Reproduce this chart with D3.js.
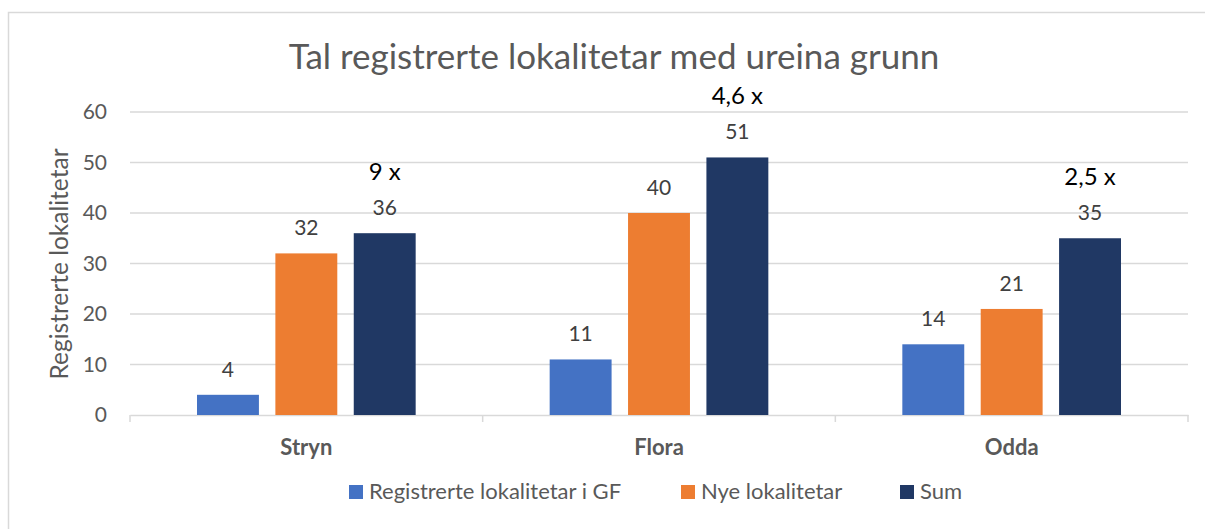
<!DOCTYPE html>
<html>
<head>
<meta charset="utf-8">
<script src="https://cdn.jsdelivr.net/npm/d3@7"></script>
<style>
  body { margin: 0; background: #fff; }
  text { font-family: Lato, "Open Sans", sans-serif; }
</style>
</head>
<body>
<div id="chart-area"></div>
<script>
// Data
var categories = ["Stryn", "Flora", "Odda"];
var seriesNames = ["Registrerte lokalitetar i GF", "Nye lokalitetar", "Sum"];
var registrerteGF = [4, 11, 14];
var nyeLokalitetar = [32, 40, 21];
var sum = [36, 51, 35];
var factorLabels = ["9 x", "4,6 x", "2,5 x"];
var yTicks = [0, 10, 20, 30, 40, 50, 60];
var colors = ["#4472C4", "#ED7D31", "#203864"];

var W = 1205, H = 529;
var margin = { left: 130, right: 17, top: 112, bottom: 114 };
var width = W - margin.left - margin.right,
    height = H - margin.top - margin.bottom;

var svg = d3.select("#chart-area")
    .append("svg")
    .attr("width", W)
    .attr("height", H);

// chart frame
svg.append("rect")
    .attr("x", 8.5).attr("y", 12.5)
    .attr("width", W).attr("height", H)
    .attr("fill", "none")
    .attr("stroke", "#d9d9d9")
    .attr("stroke-width", 1.5);

var g = svg.append("g")
    .attr("transform", "translate(" + margin.left + "," + margin.top + ")");

// Scales
var x0 = d3.scaleBand().domain(categories).range([0, width]).paddingInner(0).paddingOuter(0);
var x1 = d3.scaleBand().domain(seriesNames).range([67, x0.bandwidth() - 67]).paddingInner(0.21);
var y = d3.scaleLinear().domain([0, 60]).range([height, 0]);

// Gridlines
g.append("g")
    .selectAll("line")
    .data(yTicks.slice(1))
    .enter().append("line")
    .attr("x1", 0).attr("x2", width)
    .attr("y1", function(d){ return y(d); })
    .attr("y2", function(d){ return y(d); })
    .attr("stroke", "#d9d9d9")
    .attr("stroke-width", 1.5);

// Y-axis labels
var yAxisCall = d3.axisLeft(y).tickValues(yTicks).tickSize(0).tickPadding(23);
var yAxis = g.append("g").call(yAxisCall);
yAxis.select(".domain").remove();
yAxis.selectAll("text")
    .attr("font-size", "21px")
    .attr("fill", "#595959")
    .style("font-family", "Lato, 'Open Sans', sans-serif");

// X-axis
var xAxisCall = d3.axisBottom(x0).tickSize(0).tickPadding(24);
var xAxis = g.append("g")
    .attr("transform", "translate(0," + height + ")")
    .call(xAxisCall);
xAxis.select(".domain").attr("stroke", "#d9d9d9").attr("stroke-width", 1.5);
xAxis.selectAll("text")
    .attr("font-size", "22px")
    .attr("font-weight", "bold")
    .attr("fill", "#595959")
    .style("font-family", "Lato, 'Open Sans', sans-serif");
// category separator ticks
xAxis.selectAll(".sep")
    .data(d3.range(categories.length + 1))
    .enter().append("line")
    .attr("class", "sep")
    .attr("x1", function(i){ return i * x0.bandwidth(); })
    .attr("x2", function(i){ return i * x0.bandwidth(); })
    .attr("y1", 0).attr("y2", 7)
    .attr("stroke", "#d9d9d9")
    .attr("stroke-width", 1.5);

// Bars
var rows = categories.map(function(c, i){
    return { cat: c, values: [registrerteGF[i], nyeLokalitetar[i], sum[i]], factor: factorLabels[i] };
});

var groups = g.selectAll(".grp")
    .data(rows)
    .enter().append("g")
    .attr("class", "grp")
    .attr("transform", function(d){ return "translate(" + x0(d.cat) + ",0)"; });

groups.selectAll("rect")
    .data(function(d){ return d.values.map(function(v, k){ return { name: seriesNames[k], v: v, k: k }; }); })
    .enter().append("rect")
    .attr("x", function(d){ return x1(d.name); })
    .attr("width", x1.bandwidth())
    .attr("y", function(d){ return y(d.v); })
    .attr("height", function(d){ return height - y(d.v); })
    .attr("fill", function(d){ return colors[d.k]; });

// value labels
groups.selectAll(".val")
    .data(function(d){ return d.values.map(function(v, k){ return { name: seriesNames[k], v: v }; }); })
    .enter().append("text")
    .attr("class", "val")
    .attr("x", function(d){ return x1(d.name) + x1.bandwidth() / 2; })
    .attr("y", function(d){ return y(d.v) - 18; })
    .attr("text-anchor", "middle")
    .attr("font-size", "21px")
    .attr("fill", "#404040")
    .text(function(d){ return d.v; });

// factor annotations above Sum bars
groups.append("text")
    .attr("x", x1("Sum") + x1.bandwidth() / 2)
    .attr("y", function(d){ return y(d.values[2]) - 53; })
    .attr("text-anchor", "middle")
    .attr("font-size", "24px")
    .attr("fill", "#000")
    .text(function(d){ return d.factor; });

// Title
svg.append("text")
    .attr("x", 614)
    .attr("y", 69)
    .attr("text-anchor", "middle")
    .attr("font-size", "35px")
    .attr("fill", "#595959")
    .text("Tal registrerte lokalitetar med ureina grunn");

// Y label
svg.append("text")
    .attr("transform", "rotate(-90)")
    .attr("x", -264)
    .attr("y", 68)
    .attr("text-anchor", "middle")
    .attr("font-size", "24.5px")
    .attr("fill", "#595959")
    .text("Registrerte lokalitetar");

// Legend
var legendX = [349, 681, 900];
var legend = svg.selectAll(".legend")
    .data(seriesNames)
    .enter().append("g")
    .attr("class", "legend")
    .attr("transform", function(d, i){ return "translate(" + legendX[i] + ",485)"; });
legend.append("rect")
    .attr("width", 14).attr("height", 14)
    .attr("fill", function(d, i){ return colors[i]; });
legend.append("text")
    .attr("x", 20)
    .attr("y", 14)
    .attr("font-size", "22px")
    .attr("fill", "#595959")
    .text(function(d){ return d; });
</script>
</body>
</html>
